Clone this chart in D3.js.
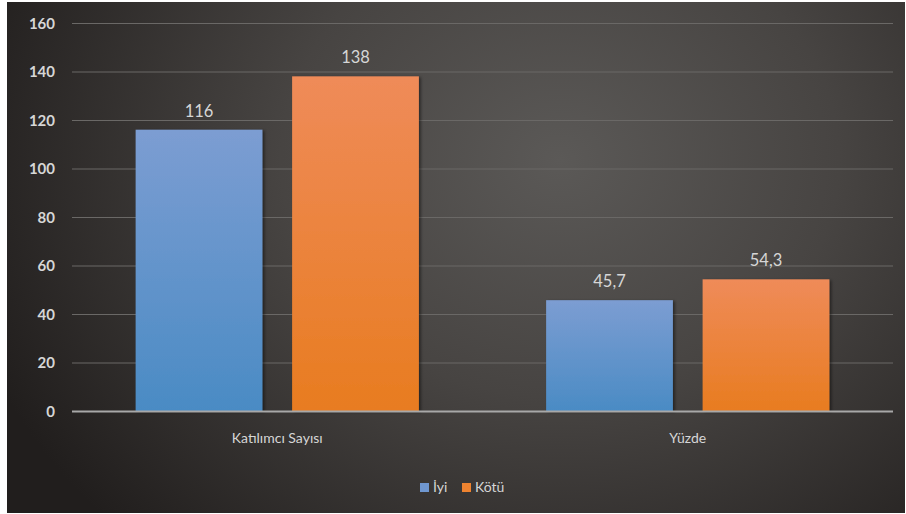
<!DOCTYPE html>
<html><head><meta charset="utf-8">
<script src="https://cdn.jsdelivr.net/npm/d3@7"></script>
<style>html,body{margin:0;padding:0;background:#fff;}svg{display:block;}</style>
</head><body><svg id="c" width="906" height="514"></svg>
<script>
const categories = ["Katılımcı Sayısı", "Yüzde"];
const seriesNames = ["İyi", "Kötü"];
const iyiValues = [116, 45.7];
const kotuValues = [138, 54.3];
const valueLabels = [["116", "45,7"], ["138", "54,3"]];
const yTicks = [0, 20, 40, 60, 80, 100, 120, 140, 160];

const svg = d3.select("#c");
const font = "Lato, 'Open Sans', sans-serif";
const defs = svg.append("defs");

const bg = defs.append("radialGradient").attr("id","bg")
  .attr("gradientUnits","userSpaceOnUse").attr("cx",560).attr("cy",160).attr("r",620)
  .attr("gradientTransform","translate(560,160) scale(1,0.85) rotate(-20) translate(-560,-160)");
bg.append("stop").attr("offset","0").attr("stop-color","#5b5957");
bg.append("stop").attr("offset","0.45").attr("stop-color","#474442");
bg.append("stop").attr("offset","1").attr("stop-color","#211e1d");

const colors = [["#7c9dd2","#4a8bc4"],["#ef8b59","#e87c20"]];
colors.forEach((c,i)=>{
  const g = defs.append("linearGradient").attr("id","g"+i).attr("x1",0).attr("y1",0).attr("x2",0).attr("y2",1);
  g.append("stop").attr("offset","0").attr("stop-color",c[0]);
  g.append("stop").attr("offset","1").attr("stop-color",c[1]);
});
const sh = defs.append("filter").attr("id","sh").attr("x","-10%").attr("y","-10%").attr("width","130%").attr("height","130%");
sh.append("feDropShadow").attr("dx",2).attr("dy",1).attr("stdDeviation",1.5).attr("flood-color","#000").attr("flood-opacity",0.45);

svg.append("rect").attr("x",7).attr("y",2).attr("width",898).attr("height",511).attr("fill","url(#bg)");

const pL = 72, pR = 893, pT = 23, pB = 411;
const y = d3.scaleLinear().domain([0,160]).range([pB, pT]);
const x0 = d3.scaleBand().domain(categories).range([pL, pR]).paddingInner(0.31).paddingOuter(0.155);
const x1 = d3.scaleBand().domain(seriesNames).range([0, x0.bandwidth()]).paddingInner(0.19).paddingOuter(0);

// grid
svg.append("g").selectAll("line").data(yTicks.filter(d=>d>0)).join("line")
  .attr("x1",pL).attr("x2",pR).attr("y1",d=>y(d)+0.5).attr("y2",d=>y(d)+0.5)
  .attr("stroke","#6a6866").attr("stroke-width",1);

// y axis labels
const yAxis = d3.axisLeft(y).tickValues(yTicks).tickSize(0).tickPadding(0);
const ya = svg.append("g").attr("transform",`translate(55,0)`).call(yAxis);
ya.select(".domain").remove();
ya.selectAll("text").attr("font-family",font).attr("font-size",15).attr("font-weight","bold").attr("fill","#d6d6d6").attr("dy","0.35em");

const seriesVals = [iyiValues, kotuValues];
seriesNames.forEach((s,si)=>{
  const g = svg.append("g");
  g.selectAll("rect").data(categories).join("rect")
    .attr("x",c=>x0(c)+x1(s)).attr("width",x1.bandwidth())
    .attr("y",(c,i)=>y(seriesVals[si][i])).attr("height",(c,i)=>pB-y(seriesVals[si][i]))
    .attr("fill","url(#g"+si+")").attr("filter","url(#sh)");
  g.selectAll("text").data(categories).join("text")
    .attr("x",c=>x0(c)+x1(s)+x1.bandwidth()/2)
    .attr("y",(c,i)=>y(seriesVals[si][i])-13)
    .attr("text-anchor","middle").attr("font-family",font).attr("font-size",16.5)
    .attr("fill","#d6d6d6").text((c,i)=>valueLabels[si][i]);
});

// axis line
svg.append("line").attr("x1",pL).attr("x2",pR).attr("y1",pB+0.5).attr("y2",pB+0.5)
  .attr("stroke","#a8a8a8").attr("stroke-width",2);

// category labels
const xAxis = d3.axisBottom(x0).tickSize(0).tickPadding(0);
const xa = svg.append("g").attr("transform",`translate(0,${pB})`).call(xAxis);
xa.select(".domain").remove();
xa.selectAll("text").attr("font-family",font).attr("font-size",14).attr("fill","#d6d6d6").attr("dy",0).attr("y",32);

// legend
const legend = svg.append("g");
const legItems = [{n:seriesNames[0], x:420, c:"#6f97d0"},{n:seriesNames[1], x:462, c:"#ee8330"}];
legItems.forEach((d,i)=>{
  legend.append("rect").attr("x",d.x).attr("y",483).attr("width",9).attr("height",9).attr("fill",d.c);
  legend.append("text").attr("x",d.x+13).attr("y",492).attr("font-family",font).attr("font-size",14)
    .attr("fill","#d6d6d6").text(d.n);
});
</script></body></html>
